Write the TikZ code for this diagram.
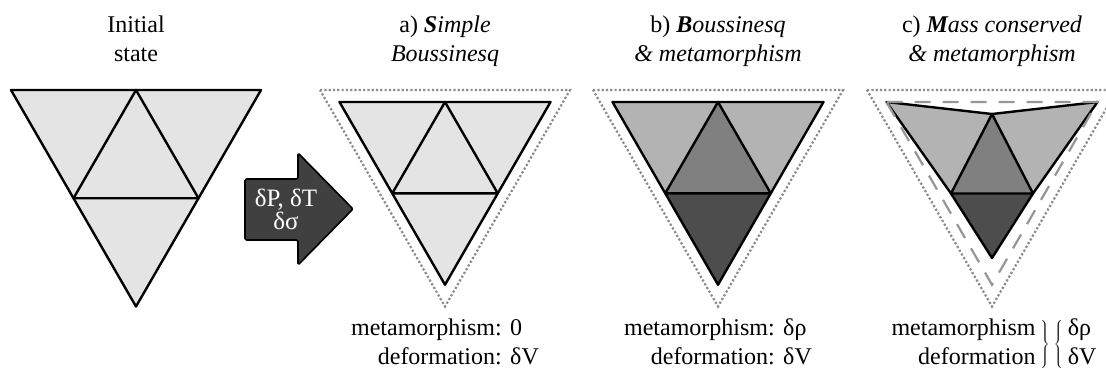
\documentclass[tikz,border=0pt]{standalone}
\usepackage{fontspec}
\setmainfont{Liberation Serif}
\usetikzlibrary{positioning,calc}

\definecolor{lightfill}{RGB}{228,228,228}
\definecolor{sidefill}{RGB}{179,179,179}
\definecolor{midfill}{RGB}{128,128,128}
\definecolor{darkfill}{RGB}{77,77,77}
\definecolor{arrowfill}{RGB}{64,64,64}
\definecolor{outlinegray}{RGB}{140,140,140}
\definecolor{dashgray}{RGB}{150,150,150}

% corner, apex and edge-midpoint coordinates of a downward triangle
% #1 name, #2 centre x, #3 top y, #4 half width
\newcommand{\trianglepoints}[4]{%
  \coordinate (#1-tl) at ({#2-#4},#3);
  \coordinate (#1-tr) at ({#2+#4},#3);
  \coordinate (#1-tm) at (#2,#3);
  \coordinate (#1-ap) at (#2,{#3+1.7321*#4});
  \coordinate (#1-ml) at ({#2-#4/2},{#3+0.8660*#4});
  \coordinate (#1-mr) at ({#2+#4/2},{#3+0.8660*#4});
}

\tikzset{
  triedge/.style={draw=black, line width=2.4pt, line join=round},
  oldoutline/.style={draw=outlinegray, line width=2.2pt, dash pattern=on 2.2pt off 2.1pt},
  newoutline/.style={draw=dashgray, line width=2.2pt, dash pattern=on 16pt off 12pt},
  arrowshape/.style={fill=arrowfill, draw=black, line width=1.6pt, line join=round, rounded corners=1.5pt},
  headtext/.style={font=\fontsize{24}{29}\selectfont, align=center, anchor=north, inner sep=0pt},
  bottomtext/.style={font=\fontsize{24}{29}\selectfont, anchor=north, inner sep=0pt},
}

\begin{document}
\begin{tikzpicture}[x=1pt, y=-1pt]
  \fill[white] (0,0) rectangle (1106,378);
  \useasboundingbox (0,0) rectangle (1106,378);

  \trianglepoints{i}{136}{90}{125}
  \trianglepoints{ao}{445}{90}{125}
  \trianglepoints{a}{445}{102}{105.5}
  \trianglepoints{bo}{718}{90}{125}
  \trianglepoints{b}{718}{102}{105.5}
  \trianglepoints{co}{992}{90}{125}
  \trianglepoints{c}{992}{102}{105.5}
  \coordinate (c-tp) at (992,114);
  \coordinate (c-sl) at (951,193.5);
  \coordinate (c-sr) at (1033,193.5);
  \coordinate (c-bt) at (992,258);

  % titles
  \node[headtext] (inittitle) at (136,16) {Initial\\state};
  \node[headtext] (atitle) at (445,16) {a) \textit{\textbf{S}imple}\\\textit{Boussinesq}};
  \node[headtext] (btitle) at (718,16) {b) \textit{\textbf{B}oussinesq}\\\textit{\& metamorphism}};
  \node[headtext] (ctitle) at (992,16) {c) \textit{\textbf{M}ass conserved}\\\textit{\& metamorphism}};

  % initial state
  \draw[triedge, fill=lightfill] (i-tl) -- (i-tr) -- (i-ap) -- cycle;
  \draw[triedge] (i-tm) -- (i-ml) -- (i-mr) -- cycle;

  % forcing arrow
  \draw[arrowshape] (245,179) -- (298,179) -- (298,153) -- (353,209) -- (298,265) -- (298,240) -- (245,240) -- cycle;
  \node[font=\fontsize{25}{20}\selectfont, text=white, align=center, inner sep=0pt] (forcing) at (286,209.5) {δP, δT\\δσ};

  % a) simple Boussinesq
  \draw[oldoutline] (ao-tl) -- (ao-tr) -- (ao-ap) -- cycle;
  \draw[triedge, fill=lightfill] (a-tl) -- (a-tr) -- (a-ap) -- cycle;
  \draw[triedge] (a-tm) -- (a-ml) -- (a-mr) -- cycle;

  % b) Boussinesq and metamorphism
  \draw[oldoutline] (bo-tl) -- (bo-tr) -- (bo-ap) -- cycle;
  \fill[sidefill] (b-tl) -- (b-tm) -- (b-ml) -- cycle;
  \fill[sidefill] (b-tm) -- (b-tr) -- (b-mr) -- cycle;
  \fill[midfill] (b-tm) -- (b-ml) -- (b-mr) -- cycle;
  \fill[darkfill] (b-ml) -- (b-mr) -- (b-ap) -- cycle;
  \draw[triedge] (b-tl) -- (b-tr) -- (b-ap) -- cycle;
  \draw[triedge] (b-tm) -- (b-ml) -- (b-mr) -- cycle;

  % c) mass conserved and metamorphism
  \draw[oldoutline] (co-tl) -- (co-tr) -- (co-ap) -- cycle;
  \fill[sidefill] (c-tl) -- (c-tp) -- (c-sl) -- cycle;
  \fill[sidefill] (c-tp) -- (c-tr) -- (c-sr) -- cycle;
  \fill[midfill] (c-tp) -- (c-sl) -- (c-sr) -- cycle;
  \fill[darkfill] (c-sl) -- (c-sr) -- (c-bt) -- cycle;
  \draw[triedge] (c-tl) -- (c-tp) -- (c-tr) -- (c-sr) -- (c-bt) -- (c-sl) -- cycle;
  \draw[triedge] (c-tp) -- (c-sl) -- (c-sr) -- cycle;
  \draw[newoutline] (c-tl) -- (c-tr) -- (c-ap) -- cycle;

  % changes below each panel
  \node[bottomtext] (ainfo) at (445,315) {\begin{tabular}{@{}r@{\hspace{0.35em}}l@{}}metamorphism: & 0\\deformation: & δV\end{tabular}};
  \node[bottomtext] (binfo) at (718,315) {\begin{tabular}{@{}r@{\hspace{0.35em}}l@{}}metamorphism: & δρ\\deformation: & δV\end{tabular}};
  \node[bottomtext] (cinfo) at (994,315) {\begin{tabular}{@{}r@{}}metamorphism\\deformation\end{tabular}\,$\left.\vrule height 20pt depth 20pt width 0pt\right\}\left\{\vrule height 20pt depth 20pt width 0pt\right.$\,\begin{tabular}{@{}l@{}}δρ\\δV\end{tabular}};
\end{tikzpicture}
\end{document}
